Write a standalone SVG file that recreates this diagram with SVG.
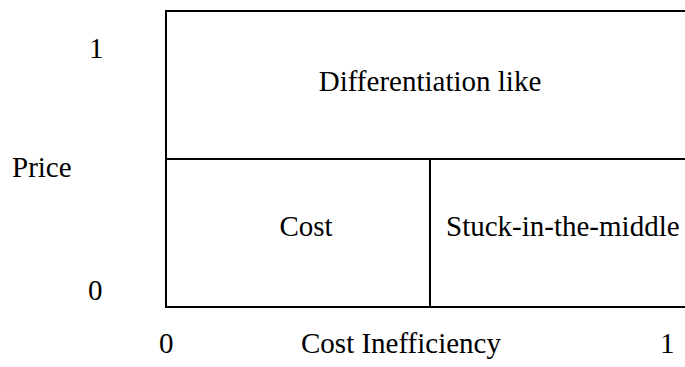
<svg xmlns="http://www.w3.org/2000/svg" width="685" height="367" viewBox="0 0 685 367">
  <style>
    .cell { fill: #ffffff; stroke: #000000; stroke-width: 2; }
    .lbl { font-family: "Liberation Serif", "Times New Roman", "DejaVu Serif", serif; font-size: 29px; fill: #000000; }
    .mid { text-anchor: middle; }
  </style>
  <rect width="685" height="367" fill="#ffffff"/>

  <!-- upper region -->
  <g id="differentiation">
    <rect class="cell" x="166" y="11" width="530" height="148"/>
    <text class="lbl mid" x="430" y="91">Differentiation like</text>
  </g>

  <!-- lower-left region -->
  <g id="cost">
    <rect class="cell" x="166" y="159" width="264" height="148"/>
    <text class="lbl mid" x="306" y="236">Cost</text>
  </g>

  <!-- lower-right region -->
  <g id="stuck">
    <rect class="cell" x="430" y="159" width="266" height="148"/>
    <text class="lbl" x="446" y="236">Stuck-in-the-middle</text>
  </g>

  <!-- axis labels -->
  <g id="y-axis">
    <text class="lbl" x="12" y="177">Price</text>
    <text class="lbl" x="89" y="58">1</text>
    <text class="lbl" x="88" y="300">0</text>
  </g>
  <g id="x-axis">
    <text class="lbl" x="159" y="353">0</text>
    <text class="lbl mid" x="401" y="353">Cost Inefficiency</text>
    <text class="lbl" x="660" y="353">1</text>
  </g>
</svg>
